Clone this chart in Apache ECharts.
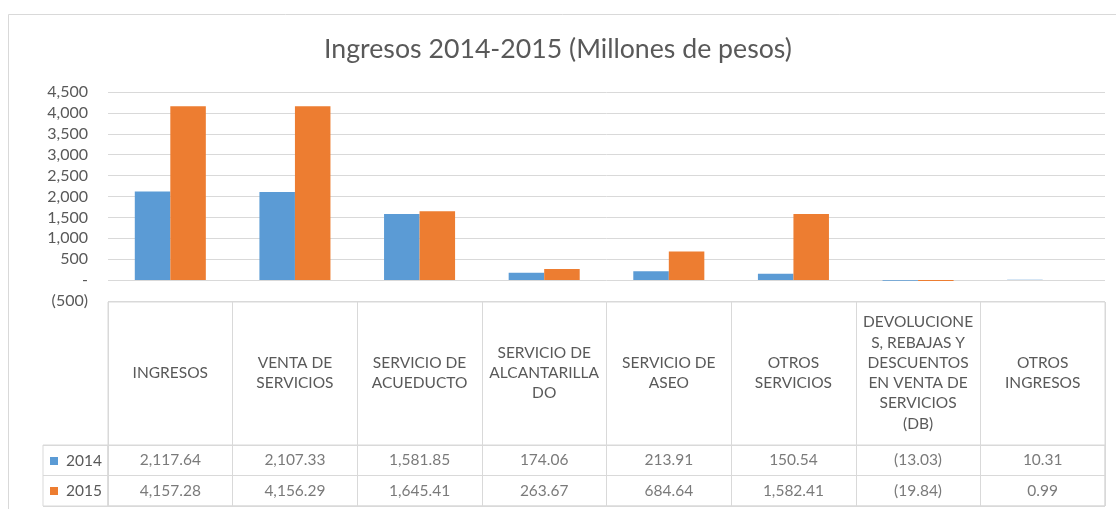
<!DOCTYPE html>
<html>
<head>
<meta charset="utf-8">
<script src="https://cdn.jsdelivr.net/npm/echarts@6/dist/echarts.min.js"></script>
<style>html,body{margin:0;padding:0;background:#fff;}#c{width:1116px;height:509px;}</style>
</head>
<body>
<div id="c"></div>
<script>
var categories = ['INGRESOS', 'VENTA DE\nSERVICIOS', 'SERVICIO DE\nACUEDUCTO', 'SERVICIO DE\nALCANTARILLA\nDO', 'SERVICIO DE\nASEO', 'OTROS\nSERVICIOS', 'DEVOLUCIONE\nS, REBAJAS Y\nDESCUENTOS\nEN VENTA DE\nSERVICIOS\n(DB)', 'OTROS\nINGRESOS'];
var values2014 = [2117.64, 2107.33, 1581.85, 174.06, 213.91, 150.54, -13.03, 10.31];
var values2015 = [4157.28, 4156.29, 1645.41, 263.67, 684.64, 1582.41, -19.84, 0.99];
var seriesNames = ['2014', '2015'];
var yMin = -500, yMax = 4500, yStep = 500;
var titleText = 'Ingresos 2014-2015 (Millones de pesos)';

var FONT = 'Lato';
var TXT = '#595959';
var LINE = '#d9d9d9';
var BLUE = '#5B9BD5', ORANGE = '#ED7D31';

function fmtNum(v, dec) {
  var s = Math.abs(v).toFixed(dec);
  var parts = s.split('.');
  parts[0] = parts[0].replace(/\B(?=(\d{3})+(?!\d))/g, ',');
  var r = parts.join('.');
  return v < 0 ? '(' + r + ')' : r;
}

function tableData(vals, row) {
  return vals.map(function (v, i) { return [i, row, v]; });
}

var chart = echarts.init(document.getElementById('c'), null, {renderer: 'canvas'});
var option = {
  backgroundColor: '#fff',
  animation: false,
  textStyle: {fontFamily: FONT},
  title: {
    text: titleText, left: 'center', top: 31,
    textStyle: {fontFamily: FONT, fontSize: 26.7, fontWeight: 'normal', color: TXT}
  },
  graphic: [{
    type: 'rect', silent: true, z: -1,
    shape: {x: 8.5, y: 14.5, width: 1130, height: 520},
    style: {fill: null, stroke: LINE, lineWidth: 1}
  }],
  legend: {
    data: seriesNames, orient: 'vertical', left: 50, top: 452, height: 57, padding: 0,
    itemWidth: 8, itemHeight: 8, itemGap: 12, icon: 'rect',
    textStyle: {fontFamily: FONT, fontSize: 15.5, color: TXT, lineHeight: 18, padding: [0, 0, 0, 3]},
    selectedMode: false
  },
  grid: [
    {left: 108, top: 92, width: 997, height: 209, containLabel: false},
    {left: 108, top: 302, width: 997, height: 204, show: true, borderColor: LINE, borderWidth: 1},
    {left: 108, top: 445, width: 997, height: 61, show: true, borderColor: LINE, borderWidth: 1},
    {left: 43, top: 445, width: 65, height: 61, show: true, borderColor: LINE, borderWidth: 1}
  ],
  xAxis: [
    {
      type: 'category', data: categories, gridIndex: 0, position: 'bottom',
      axisLine: {show: false}, axisTick: {show: false},
      axisLabel: {interval: 0, margin: 72, verticalAlign: 'middle', fontFamily: FONT, fontSize: 15.5, lineHeight: 20.3, color: TXT}
    },
    {
      type: 'category', data: categories, gridIndex: 1,
      axisLine: {show: false}, axisTick: {show: false}, axisLabel: {show: false},
      splitLine: {show: true, interval: 0, lineStyle: {color: LINE, width: 1}}
    },
    {
      type: 'category', data: categories, gridIndex: 2,
      axisLine: {show: false}, axisTick: {show: false}, axisLabel: {show: false}, splitLine: {show: false}
    },
    {
      type: 'value', gridIndex: 3, min: 0, max: 1, show: false
    }
  ],
  yAxis: [
    {
      type: 'value', gridIndex: 0, min: yMin, max: yMax, interval: yStep,
      axisLine: {show: false}, axisTick: {show: false},
      splitLine: {lineStyle: {color: LINE, width: 1}},
      axisLabel: {
        margin: 20, fontFamily: FONT, fontSize: 16, color: TXT,
        formatter: function (v) { return v === 0 ? '-' : fmtNum(v, 0); }
      }
    },
    {type: 'value', gridIndex: 1, min: 0, max: 1, show: false},
    {
      type: 'category', gridIndex: 2, data: seriesNames, inverse: true,
      axisLine: {show: false}, axisTick: {show: false}, axisLabel: {show: false},
      splitLine: {show: true, interval: 0, lineStyle: {color: LINE, width: 1}}
    },
    {
      type: 'category', gridIndex: 3, data: seriesNames, inverse: true,
      axisLine: {show: false}, axisTick: {show: false}, axisLabel: {show: false},
      splitLine: {show: true, interval: 0, lineStyle: {color: LINE, width: 1}}
    }
  ],
  series: [
    {
      name: seriesNames[0], type: 'bar', xAxisIndex: 0, yAxisIndex: 0, data: values2014,
      barGap: '0%', barCategoryGap: '43%', itemStyle: {color: BLUE}
    },
    {
      name: seriesNames[1], type: 'bar', xAxisIndex: 0, yAxisIndex: 0, data: values2015,
      barGap: '0%', barCategoryGap: '43%', itemStyle: {color: ORANGE}
    },
    {
      name: 'tabla ' + seriesNames[0], type: 'scatter', xAxisIndex: 2, yAxisIndex: 2,
      data: tableData(values2014, seriesNames[0]), encode: {x: 0, y: 1},
      symbolSize: 1, itemStyle: {color: 'rgba(0,0,0,0)'},
      label: {show: true, position: 'inside', fontFamily: FONT, fontSize: 15.5, color: TXT,
        formatter: function (p) { return fmtNum(p.value[2], 2); }}
    },
    {
      name: 'tabla ' + seriesNames[1], type: 'scatter', xAxisIndex: 2, yAxisIndex: 2,
      data: tableData(values2015, seriesNames[1]), encode: {x: 0, y: 1},
      symbolSize: 1, itemStyle: {color: 'rgba(0,0,0,0)'},
      label: {show: true, position: 'inside', fontFamily: FONT, fontSize: 15.5, color: TXT,
        formatter: function (p) { return fmtNum(p.value[2], 2); }}
    }
  ]
};
chart.setOption(option);
</script>
</body>
</html>
